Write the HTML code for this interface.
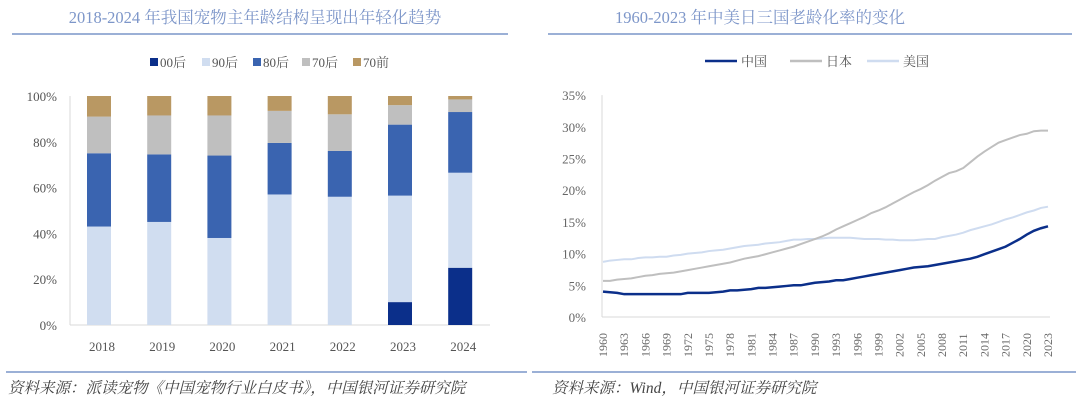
<!DOCTYPE html>
<html><head><meta charset="utf-8"><style>
html,body{margin:0;padding:0;background:#fff;width:1080px;height:407px;overflow:hidden}
svg{display:block;font-family:"Liberation Serif","Noto Serif CJK SC","Noto Sans CJK SC",serif}
</style></head><body>
<svg id="s" width="1080" height="407" viewBox="0 0 1080 407">
<g>
<text x="255" y="23" text-anchor="middle" font-size="16.5" fill="#7d96c9">2018-2024 年我国宠物主年龄结构呈现出年轻化趋势</text>
<line x1="12" y1="34" x2="508" y2="34" stroke="#7a95c8" stroke-width="1.5"/>
</g>
<g>
<text x="760" y="23" text-anchor="middle" font-size="16.5" fill="#7d96c9">1960-2023 年中美日三国老龄化率的变化</text>
<line x1="548" y1="34" x2="1072" y2="34" stroke="#7a95c8" stroke-width="1.5"/>
</g>
<g id="left"></g>
<g id="right"></g>
<line x1="6" y1="372" x2="527" y2="372" stroke="#7a95c8" stroke-width="1.5"/>
<line x1="532" y1="372" x2="1076" y2="372" stroke="#7a95c8" stroke-width="1.5"/>
<text x="8" y="393" font-size="15.5" font-style="italic" fill="#444">资料来源：派读宠物《中国宠物行业白皮书》，中国银河证券研究院</text>
<text x="552" y="393" font-size="15.5" font-style="italic" fill="#444">资料来源：Wind，中国银河证券研究院</text>
</svg>
<script>
const years=["2018","2019","2020","2021","2022","2023","2024"];
const seriesNames=["00后","90后","80后","70后","70前"];
const s00=[0,0,0,0,0,10,25];
const s90=[43,45,38,57,56,46.5,41.5];
const s80=[32,29.5,36,22.5,20,31,26.5];
const s70=[16,17,17.5,14,16,8.5,5.5];
const s70q=[9,8.5,8.5,6.5,8,4,1.5];
const yTicksL=[0,20,40,60,80,100];

const lineYears=[];for(let y=1960;y<=2023;y++)lineYears.push(y);
const china=[4.0,3.9,3.8,3.6,3.6,3.6,3.6,3.6,3.6,3.6,3.6,3.6,3.8,3.8,3.8,3.8,3.9,4.0,4.2,4.2,4.3,4.4,4.6,4.6,4.7,4.8,4.9,5.0,5.0,5.2,5.4,5.5,5.6,5.8,5.8,6.0,6.2,6.4,6.6,6.8,7.0,7.2,7.4,7.6,7.8,7.9,8.0,8.2,8.4,8.6,8.8,9.0,9.2,9.5,9.9,10.3,10.7,11.1,11.7,12.3,13.0,13.6,14.0,14.3];
const japan=[5.7,5.7,5.9,6.0,6.1,6.3,6.5,6.6,6.8,6.9,7.0,7.2,7.4,7.6,7.8,8.0,8.2,8.4,8.6,8.9,9.2,9.4,9.6,9.9,10.2,10.5,10.8,11.1,11.5,11.9,12.3,12.7,13.2,13.8,14.3,14.8,15.3,15.8,16.4,16.8,17.3,17.9,18.5,19.1,19.7,20.2,20.8,21.5,22.1,22.7,23.0,23.5,24.4,25.3,26.1,26.8,27.5,27.9,28.3,28.7,28.9,29.3,29.4,29.4];
const usa=[8.7,8.9,9.0,9.1,9.1,9.3,9.4,9.4,9.5,9.5,9.7,9.8,10.0,10.1,10.2,10.4,10.5,10.6,10.8,11.0,11.2,11.3,11.4,11.6,11.7,11.8,12.0,12.2,12.2,12.3,12.3,12.4,12.5,12.5,12.5,12.5,12.4,12.3,12.3,12.3,12.2,12.2,12.1,12.1,12.1,12.2,12.3,12.3,12.6,12.8,13.0,13.3,13.7,14.0,14.3,14.6,15.0,15.4,15.7,16.1,16.5,16.8,17.2,17.4];
const yTicksR=[0,5,10,15,20,25,30,35];
const lineNames=["中国","日本","美国"];

const NS="http://www.w3.org/2000/svg";
function mk(p,tag,a,txt){const e=document.createElementNS(NS,tag);for(const k in a)e.setAttribute(k,a[k]);if(txt!==undefined)e.textContent=txt;p.appendChild(e);return e;}

const L=document.getElementById('left');
const lx=i=>99+i*60.2, ly=v=>325-v*2.29;
const barCols=["#0b2f8a","#d0ddf0","#3a64b0","#bfbfbf","#b99863"];
const stacks=[s00,s90,s80,s70,s70q];
yTicksL.forEach(t=>{const e=mk(L,'text',{x:57,y:ly(t)+5,'text-anchor':'end','font-size':13,fill:'#555'},t+'%');

});
const axL=mk(L,'line',{x1:70,y1:ly(0),x2:70,y2:ly(100),stroke:'#d9d9d9'});


const axLx=mk(L,'line',{x1:70,y1:ly(0),x2:490,y2:ly(0),stroke:'#d9d9d9'});


years.forEach((yr,i)=>{let base=0;
stacks.forEach((s,k)=>{const v=s[i];if(v>0){const r=mk(L,'rect',{x:lx(i)-12,y:ly(base+v),width:24,height:v*2.29,fill:barCols[k]});

}base+=v;});
const t=mk(L,'text',{x:lx(i)+3,y:351,'text-anchor':'middle','font-size':13,fill:'#555'},yr);

});
const legX=[150,202,253,302,353];
seriesNames.forEach((n,k)=>{const g=mk(L,'g',{});


mk(g,'rect',{x:legX[k],y:58,width:8,height:8,fill:barCols[k]});
mk(g,'text',{x:legX[k]+10,y:67,'font-size':13,fill:'#555'},n);});

const R=document.getElementById('right');
const rx=y=>603+(y-1960)*(445/63), ry=v=>317-v*6.34;
yTicksR.forEach(t=>{const e=mk(R,'text',{x:586,y:ry(t)+5,'text-anchor':'end','font-size':13,fill:'#666'},t+'%');

});
const ay=mk(R,'line',{x1:602,y1:ry(0),x2:602,y2:ry(35),stroke:'#d9d9d9'});


const ax=mk(R,'line',{x1:602,y1:ry(0),x2:1050,y2:ry(0),stroke:'#d9d9d9'});


lineYears.forEach(y=>{if((y-1960)%3===0){const t=mk(R,'text',{transform:`translate(${rx(y)+4},357) rotate(-90)`,'font-size':12,fill:'#666'},String(y));

}});
const lineData=[usa,japan,china], lineCols=["#cfdcf0","#bfbfbf","#0b2f8a"], lnames=["美国","日本","中国"];
lineData.forEach((d,k)=>{const p=mk(R,'polyline',{points:d.map((v,i)=>rx(lineYears[i])+','+ry(v)).join(' '),fill:'none',stroke:lineCols[k],'stroke-width':k===2?2.5:2});

});
const lcol={"中国":"#0b2f8a","日本":"#bfbfbf","美国":"#cfdcf0"};
const lgx=[705,790,867];
lineNames.forEach((n,k)=>{const g=mk(R,'g',{});


mk(g,'line',{x1:lgx[k],y1:61,x2:lgx[k]+32,y2:61,stroke:lcol[n],'stroke-width':2.5});
mk(g,'text',{x:lgx[k]+36,y:66,'font-size':13,fill:'#555'},n);});
</script>
</body></html>
